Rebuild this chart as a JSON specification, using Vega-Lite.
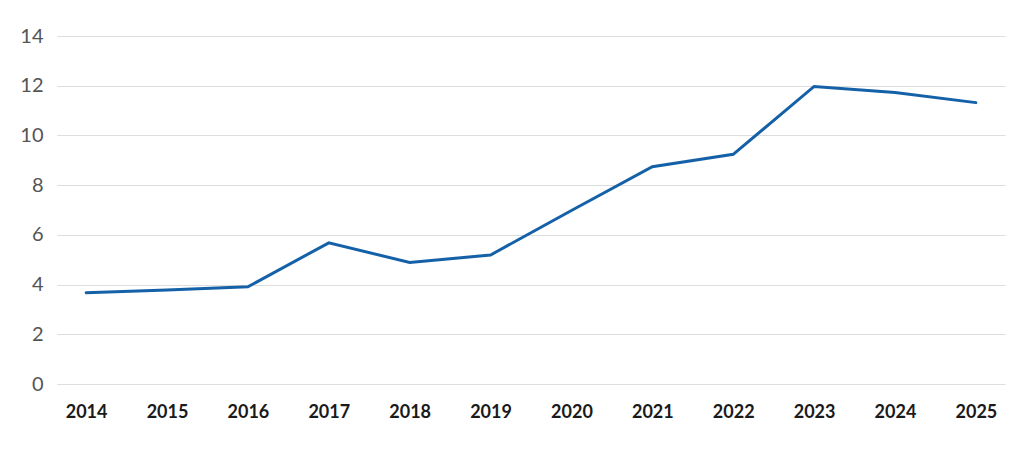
{
  "$schema": "https://vega.github.io/schema/vega-lite/v6.json",
  "autosize": {"type": "none"},
  "padding": {"left": 57, "top": 36, "right": 19, "bottom": 66},
  "width": 948,
  "height": 348,
  "background": "white",
  "data": {
    "values": [
      {"year": "2014", "value": 3.67},
      {"year": "2015", "value": 3.78},
      {"year": "2016", "value": 3.91},
      {"year": "2017", "value": 5.68},
      {"year": "2018", "value": 4.89},
      {"year": "2019", "value": 5.19},
      {"year": "2020", "value": 6.98},
      {"year": "2021", "value": 8.74},
      {"year": "2022", "value": 9.24},
      {"year": "2023", "value": 11.97},
      {"year": "2024", "value": 11.73},
      {"year": "2025", "value": 11.32}
    ]
  },
  "config": {
    "view": {"stroke": null},
    "axis": {"font": "Lato"}
  },
  "mark": {"type": "line", "color": "#1461a8", "strokeWidth": 3, "strokeCap": "round", "strokeJoin": "miter"},
  "encoding": {
    "x": {
      "field": "year",
      "type": "ordinal",
      "scale": {"type": "point", "padding": 0.36},
      "axis": {
        "title": null,
        "domain": false,
        "ticks": false,
        "labelAngle": 0,
        "labelFont": "Lato",
        "labelFontWeight": "bold",
        "labelFontSize": 18,
        "labelColor": "#1a1a1a",
        "labelPadding": 19
      }
    },
    "y": {
      "field": "value",
      "type": "quantitative",
      "scale": {"domain": [0, 14], "nice": false, "zero": true},
      "axis": {
        "title": null,
        "values": [0, 2, 4, 6, 8, 10, 12, 14],
        "domain": false,
        "ticks": false,
        "labelFont": "Lato",
        "labelFontSize": 20,
        "labelColor": "#555555",
        "labelPadding": 14,
        "gridColor": "#dddddd",
        "gridWidth": 1
      }
    }
  }
}
